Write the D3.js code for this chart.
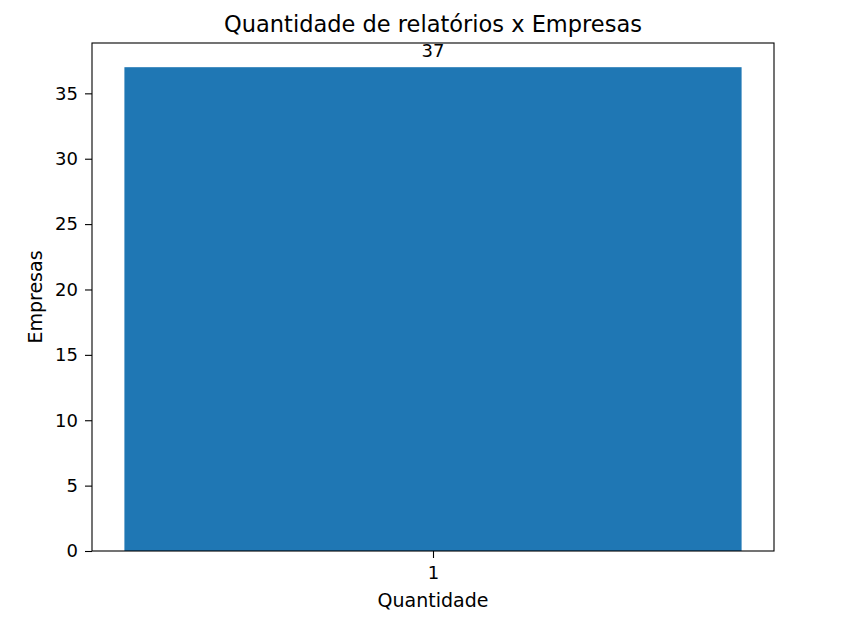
<!DOCTYPE html>
<html>
<head>
<meta charset="utf-8">
<script src="https://cdn.jsdelivr.net/npm/d3@7"></script>
<style>
  body { margin: 0; background: #fff; }
  text { font-family: "DejaVu Sans", sans-serif; fill: #000; }
</style>
</head>
<body>
<div id="chart"></div>
<script>
// data
var categories = ["1"];
var values = [37];
var yTicks = [0, 5, 10, 15, 20, 25, 30, 35];

var W = 852, H = 623;
var margin = {top: 43, right: 78, bottom: 72, left: 92},
    width = W - margin.left - margin.right,
    height = H - margin.top - margin.bottom;

var svg = d3.select("#chart").append("svg")
    .attr("width", W)
    .attr("height", H);

var g = svg.append("g")
    .attr("transform", "translate(" + margin.left + "," + margin.top + ")");

// numeric x scale like matplotlib: bar width 0.8, 5% margins
var x = d3.scaleLinear().domain([0.558, 1.442]).range([0, width]);
var y = d3.scaleLinear().domain([0, d3.max(values) * 1.05]).range([height, 0]);

g.selectAll(".bar")
    .data(values)
  .enter().append("rect")
    .attr("class", "bar")
    .attr("x", function(d, i) { return x(+categories[i] - 0.4); })
    .attr("width", function(d, i) { return x(+categories[i] + 0.4) - x(+categories[i] - 0.4); })
    .attr("y", function(d) { return y(d); })
    .attr("height", function(d) { return y(0) - y(d); })
    .attr("fill", "#1f77b4");

// value labels
g.selectAll(".lbl")
    .data(values)
  .enter().append("text")
    .attr("class", "lbl")
    .attr("x", function(d, i) { return x(+categories[i]); })
    .attr("y", function(d) { return y(d) - 10; })
    .attr("text-anchor", "middle")
    .style("font-size", "18px")
    .text(function(d) { return d; });

// axes
var xAxis = g.append("g")
    .attr("transform", "translate(0," + height + ")")
    .call(d3.axisBottom(x).tickValues(categories.map(Number)).tickFormat(function(d) { return d; })
        .tickSize(7).tickPadding(8));
var yAxis = g.append("g")
    .call(d3.axisLeft(y).tickValues(yTicks).tickSize(7).tickPadding(7));

[xAxis, yAxis].forEach(function(a) {
  a.select(".domain").remove();
  a.selectAll("line").attr("stroke", "#000").attr("stroke-width", 1.1);
  a.selectAll("text").style("font-size", "18px").style("font-family", "DejaVu Sans");
});

// frame
g.append("rect")
    .attr("width", width)
    .attr("height", height)
    .attr("fill", "none")
    .attr("stroke", "#000")
    .attr("stroke-width", 1.1);

// titles
svg.append("text")
    .attr("x", margin.left + width / 2)
    .attr("y", 32)
    .attr("text-anchor", "middle")
    .style("font-size", "22.5px")
    .text("Quantidade de relatórios x Empresas");

svg.append("text")
    .attr("x", margin.left + width / 2)
    .attr("y", 607)
    .attr("text-anchor", "middle")
    .style("font-size", "19px")
    .text("Quantidade");

svg.append("text")
    .attr("transform", "translate(42," + (margin.top + height / 2) + ") rotate(-90)")
    .attr("text-anchor", "middle")
    .style("font-size", "19px")
    .text("Empresas");
</script>
</body>
</html>
